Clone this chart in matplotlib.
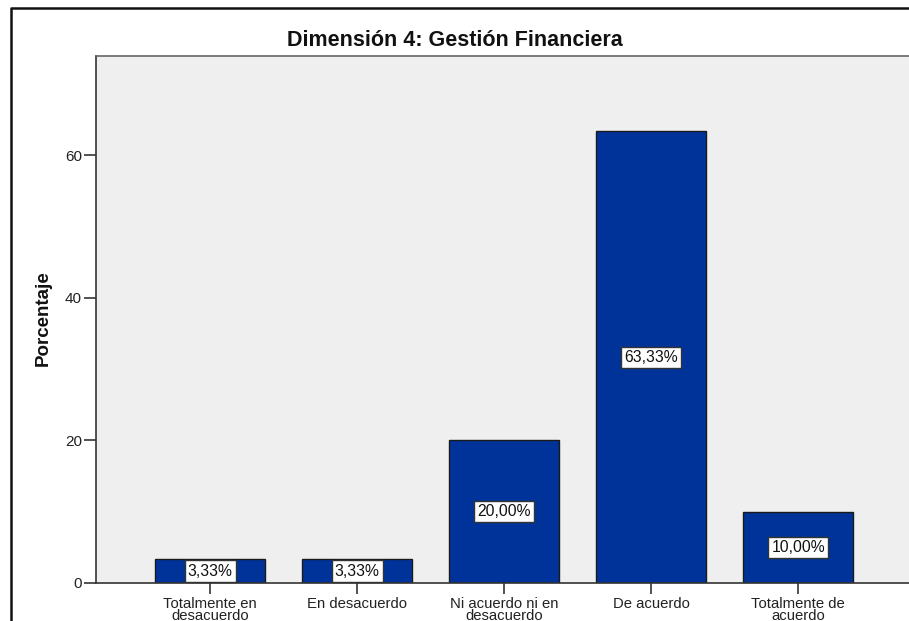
import matplotlib
matplotlib.use("Agg")
import matplotlib.pyplot as plt
from matplotlib.lines import Line2D

plt.rcParams['font.family'] = ['Liberation Sans', 'DejaVu Sans']

categories = ["Totalmente en\ndesacuerdo", "En desacuerdo", "Ni acuerdo ni en\ndesacuerdo",
              "De acuerdo", "Totalmente de\nacuerdo"]
values = [3.33, 3.33, 20.00, 63.33, 10.00]
yticks = [0, 20, 40, 60]
title = "Dimensión 4: Gestión Financiera"
ylabel = "Porcentaje"

W, H = 909, 621
fig = plt.figure(figsize=(W / 100, H / 100), dpi=100)
fig.patch.set_facecolor('white')

left_px, right_px, top_px, bottom_px = 96, 913, 56, 583
ax = fig.add_axes([left_px / W, (H - bottom_px) / H, (right_px - left_px) / W, (bottom_px - top_px) / H])
ax.set_facecolor('#EFEFEF')

x = list(range(len(categories)))
ax.bar(x, values, width=0.75, color='#003399', edgecolor='#1a1a1a', linewidth=1.0, zorder=2)

for xi, v in zip(x, values):
    lab = f"{v:.2f}".replace('.', ',') + '%'
    ax.text(xi, v / 2, lab, ha='center', va='center', fontsize=11.3, color='#111111', zorder=3,
            bbox=dict(boxstyle='square,pad=0.2', facecolor='white', edgecolor='#333333', linewidth=1.0))

ax.set_xlim(-0.776, len(categories) - 1 + 0.78)
ax.set_ylim(0, 73.9)
ax.set_yticks(yticks)
ax.set_yticklabels([str(t) for t in yticks], fontsize=11, color='#222222')
ax.set_xticks(x)
ax.set_xticklabels(categories, fontsize=10.7, linespacing=0.82, color='#222222')
ax.tick_params(axis='y', direction='out', length=9, width=1.2, color='#333333', pad=1)
ax.tick_params(axis='x', direction='out', length=8, width=1.2, color='#333333', pad=2)

ax.spines['right'].set_visible(False)
ax.spines['top'].set_color('#666666')
ax.spines['top'].set_linewidth(1.2)
ax.spines['left'].set_color('#333333')
ax.spines['left'].set_linewidth(1.2)
ax.spines['bottom'].set_color('#333333')
ax.spines['bottom'].set_linewidth(1.2)

fig.text(43.5 / W, 1 - 318 / H, ylabel, rotation=90, ha='center', va='center',
         fontsize=13.5, fontweight='bold', color='#111111')
fig.text(455 / W, 1 - 40 / H, title, ha='center', va='center', fontsize=15.5, fontweight='bold',
         color='#111111')

# outer border (left and top)
fig.add_artist(Line2D([11 / W, 11 / W, 1.0], [0.0, 1 - 8 / H, 1 - 8 / H],
                      transform=fig.transFigure, color='#111111', linewidth=1.8))

fig.savefig('out.png', dpi=100)
